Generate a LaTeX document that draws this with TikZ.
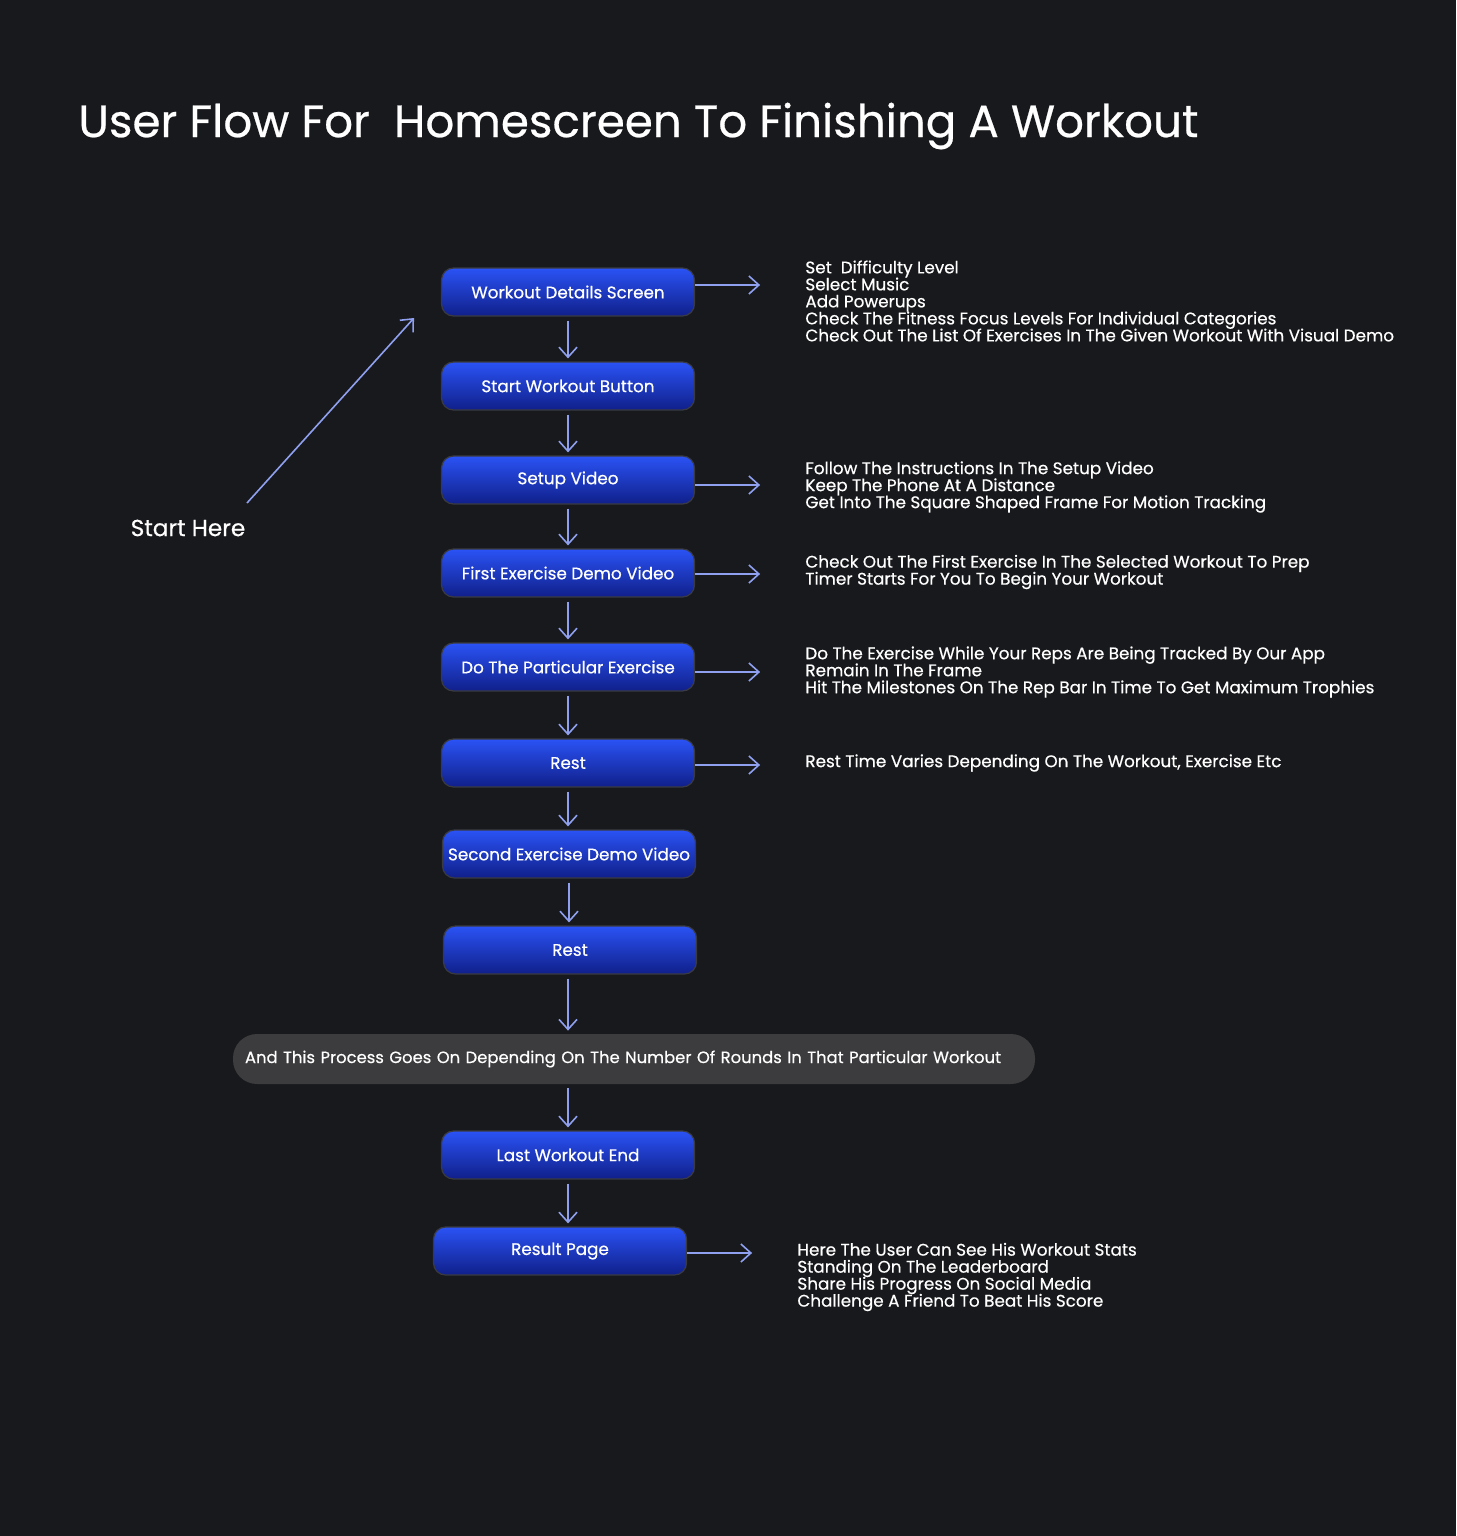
\documentclass[tikz,border=0pt]{standalone}
\usepackage{fontspec}
\setmainfont{Poppins}
\newfontfamily\medfont{Poppins}[FakeBold=0.5]
\newcommand\notefont{\medfont\fontsize{8.4}{8.5}\selectfont\setlength{\lineskiplimit}{-20pt}}
\usetikzlibrary{arrows.meta,positioning,calc}

\definecolor{bgdark}{HTML}{18191C}
\definecolor{boxtop}{HTML}{2A52F5}
\definecolor{boxbot}{HTML}{10208A}
\definecolor{boxrim}{HTML}{3A3B40}
\definecolor{flowc}{HTML}{8FA0F0}
\definecolor{loopgray}{HTML}{3C3C3E}

\begin{document}
\begin{tikzpicture}[
    x=0.5pt, y=-0.5pt,
    >={Straight Barb[length=5pt,width=9pt]},
    stepnode/.style={draw=boxrim, line width=0.6pt, rounded corners=6pt,
        top color=boxtop, bottom color=boxbot, minimum width=126.5pt,
        minimum height=24pt, inner sep=1pt, text=white, font=\medfont\fontsize{8.4}{9}\selectfont},
    note/.style={anchor=west, align=left, text=white, inner sep=0pt, font=\notefont},
    flow/.style={->, draw=flowc, line width=0.8pt},
    down/.style={flow, shorten <=2pt, shorten >=1.5pt}]
  \fill[bgdark] (0,0) rectangle (1456,1536);
  \useasboundingbox (0,0) rectangle (1456,1536);

  \node[anchor=west, text=white, inner sep=0pt, font=\medfont\fontsize{22.6}{24}\selectfont]
    (title) at (78,126) {User Flow For\ \ Homescreen To Finishing A Workout};

  % main column
  \node[stepnode] (wd)   at (568,292)  {Workout Details Screen};
  \node[stepnode] (sw)   at (568,386)  {Start Workout Button};
  \node[stepnode] (sv)   at (568,480)  {Setup Video};
  \node[stepnode] (fe)   at (568,573)  {First Exercise Demo Video};
  \node[stepnode] (dp)   at (568,667)  {Do The Particular Exercise};
  \node[stepnode] (r1)   at (568,763)  {Rest};
  \node[stepnode] (se)   at (569,854)  {Second Exercise Demo Video};
  \node[stepnode] (r2)   at (570,950)  {Rest};
  \node[fill=loopgray, rounded corners=12pt, minimum height=25pt, inner xsep=6pt,
        text width=389pt, align=left, text=white, font=\medfont\fontsize{8.2}{9}\selectfont]
    (rounds) at (634,1059) {And This Process Goes On Depending On The Number Of Rounds In That Particular Workout};
  \node[stepnode] (lw)   at (568,1155) {Last Workout End};
  \node[stepnode] (rp)   at (560,1251) {Result Page};

  \foreach \a/\b in {wd/sw,sw/sv,sv/fe,fe/dp,dp/r1,r1/se,se/r2,lw/rp}
    \draw[down] (\a.south) -- (\a.south |- \b.north);
  \draw[down] (r2.south -| 568,0) -- (rounds.north -| 568,0);
  \draw[down] (rounds.south -| 568,0) -- (lw.north -| 568,0);

  % notes on the right
  \node[note] (n1) at (805,301) {Set\ \ Difficulty Level\\Select Music\\Add Powerups\\
    Check The Fitness Focus Levels For Individual Categories\\
    Check Out The List Of Exercises In The Given Workout With Visual Demo};
  \node[note] (n2) at (805,487) {Follow The Instructions In The Setup Video\\
    Keep The Phone At A Distance\\Get Into The Square Shaped Frame For Motion Tracking};
  \node[note] (n3) at (805,572) {Check Out The First Exercise In The Selected Workout To Prep\\
    Timer Starts For You To Begin Your Workout};
  \node[note] (n4) at (805,672) {Do The Exercise While Your Reps Are Being Tracked By Our App\\
    Remain In The Frame\\Hit The Milestones On The Rep Bar In Time To Get Maximum Trophies};
  \node[note] (n5) at (805,763) {Rest Time Varies Depending On The Workout, Exercise Etc};
  \node[note] (n6) at (797,1277) {Here The User Can See His Workout Stats\\
    Standing On The Leaderboard\\Share His Progress On Social Media\\
    Challenge A Friend To Beat His Score};

  \draw[flow] ([yshift=3.5pt]wd.east) -- ++(65,0);
  \draw[flow] ([yshift=-2.5pt]sv.east) -- ++(65,0);
  \draw[flow] ([yshift=-0.5pt]fe.east) -- ++(65,0);
  \draw[flow] ([yshift=-2.5pt]dp.east) -- ++(65,0);
  \draw[flow] ([yshift=-1pt]r1.east) -- ++(65,0);
  \draw[flow] ([yshift=-1pt]rp.east) -- ++(65,0);

  % start marker
  \node[text=white, inner sep=0pt, font=\medfont\fontsize{11.6}{12}\selectfont] (start) at (188,528) {Start Here};
  \coordinate (aim) at (414,318);
  \draw[flow] (247,503) -- (aim);
\end{tikzpicture}
\end{document}
